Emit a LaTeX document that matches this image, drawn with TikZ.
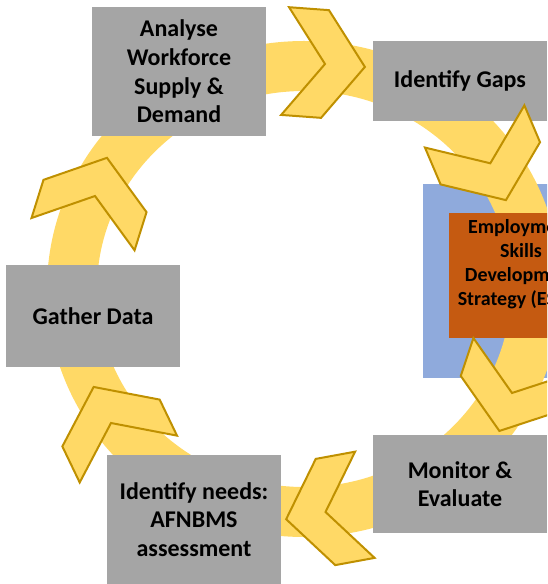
\documentclass[tikz,border=0pt]{standalone}
\usepackage{fontspec}
\setmainfont{Carlito}
\definecolor{ringyellow}{HTML}{FFD966}
\definecolor{chevedge}{HTML}{BF9000}
\definecolor{boxgray}{HTML}{A5A5A5}
\definecolor{stratblue}{HTML}{8FAADC}
\definecolor{stratorange}{HTML}{C55A11}
\begin{document}
\begin{tikzpicture}[x=0.75pt,y=-0.75pt,
  box/.style={fill=boxgray, inner sep=0pt, align=center, minimum width=130.5pt,
    font=\fontsize{18}{21.5}\selectfont\bfseries},
  chev/.style={fill=ringyellow, draw=chevedge, line width=1.5pt},
  ring/.style={draw=ringyellow, line width=37.5pt}]
\useasboundingbox (0,0) rectangle (547,584);
\clip (0,0) rectangle (547,584);
% blue backdrop
\node[fill=stratblue, inner sep=0pt, minimum width=177*0.75pt, minimum height=194*0.75pt] (backdrop) at (511.5,281) {};
% ring
\draw[ring] (304,289) ellipse [x radius=232, y radius=223];
% orange strategy box
\node[fill=stratorange, inner sep=0pt, minimum width=144*0.75pt, minimum height=125*0.75pt] (esdsbox) at (521,275.5) {};
\node[align=center, inner sep=0pt, font=\fontsize{15}{18}\selectfont\bfseries] (esds) at (521,264.5)
  {Employment\\Skills\\Development\\Strategy (ESDS)};
% process boxes
\node[box, minimum height=129*0.75pt] (analyse) at (179,71.5) {Analyse\\Workforce\\Supply \&\\Demand};
\node[box, minimum height=80*0.75pt] (gaps) at (460,81) {Identify Gaps};
\node[box, minimum height=102*0.75pt] (gather) at (93,316) {Gather Data};
\node[box, minimum height=98*0.75pt] (monitor) at (460,484) {Monitor \&\\Evaluate};
\node[box, minimum height=129*0.75pt] (needs) at (194,519.5) {Identify needs:\\AFNBMS\\assessment};
% chevrons
\foreach \cx/\cy/\a in {325/64/4.2, 490.3/163.3/67, 512/393/108.4, 325.5/512/169.6, 111/423/244.3, 95/196/287.4}
  \draw[chev, shift={(\cx,\cy)}, rotate=-\a] (-40,-54) -- (0,-54) -- (40,0) -- (0,54) -- (-40,54) -- (0,0) -- cycle;
\end{tikzpicture}
\end{document}
